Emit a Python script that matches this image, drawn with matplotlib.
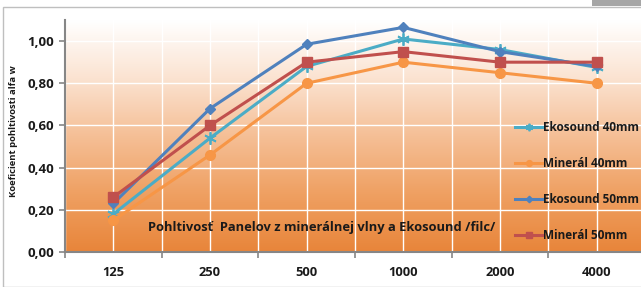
import numpy as np
import matplotlib
matplotlib.use("Agg")
import matplotlib.pyplot as plt
from matplotlib.colors import LinearSegmentedColormap
from matplotlib.patches import Rectangle

# data
freqs = ["125", "250", "500", "1000", "2000", "4000"]
ekosound_40 = [0.18, 0.54, 0.88, 1.01, 0.96, 0.875]
mineral_40 = [0.15, 0.46, 0.80, 0.90, 0.85, 0.80]
ekosound_50 = [0.23, 0.68, 0.985, 1.065, 0.95, 0.88]
mineral_50 = [0.26, 0.60, 0.90, 0.95, 0.90, 0.90]
yticks = [0.0, 0.2, 0.4, 0.6, 0.8, 1.0]

plt.rcParams['font.family'] = ['Open Sans', 'DejaVu Sans']
plt.rcParams['font.weight'] = 'bold'

W, H = 641, 287
fig = plt.figure(figsize=(W / 100, H / 100), dpi=100)
fig.patch.set_facecolor('white')

# chart frame like the spreadsheet object
fig.patches.append(Rectangle((3 / W, 0), 1, 1 - 7 / H, transform=fig.transFigure,
                             fill=False, edgecolor='#BFBFBF', lw=1.0))
fig.patches.append(Rectangle((592 / W, 1 - 6 / H), 1, 6 / H, transform=fig.transFigure,
                             facecolor='#A6A6A6', edgecolor='none'))

ax = fig.add_axes([65 / W, 1 - 252 / H, (645 - 65) / W, (252 - 20) / H])

# gradient background: white at top -> orange at bottom
cmap = LinearSegmentedColormap.from_list(
    'bg', [(0, '#FFFFFF'), (0.25, '#FBE3D1'), (0.5, '#F5BF96'),
           (0.75, '#EFA062'), (1, '#E8853A')])
grad = np.linspace(0, 1, 256).reshape(-1, 1)
ax.imshow(grad, aspect='auto', cmap=cmap, extent=[0, 1, 0, 1],
          transform=ax.transAxes, zorder=0)

x = np.arange(len(freqs))
ax.plot(x, ekosound_40, color='#4BACC6', lw=2.2, marker=(6, 2, 0), ms=9, mew=1.3,
        label='Ekosound 40mm', zorder=3)
ax.plot(x, mineral_40, color='#F79646', lw=2.2, marker='o', ms=7,
        label='Minerál 40mm', zorder=3)
ax.plot(x, ekosound_50, color='#4F81BD', lw=2.2, marker='D', ms=5.5,
        label='Ekosound 50mm', zorder=3)
ax.plot(x, mineral_50, color='#C0504D', lw=2.2, marker='s', ms=7.5,
        label='Minerál 50mm', zorder=3)

ax.set_xlim(-0.5, 5.5)
ax.set_ylim(0, 1.1)
ax.set_yticks(yticks)
ax.set_yticklabels([f"{v:.2f}".replace('.', ',') for v in yticks])
ax.set_xticks(np.arange(-0.5, 6.0, 1.0))
ax.set_xticklabels([])
ax.set_xticks(x, minor=True)
ax.set_xticklabels(freqs, minor=True)
ax.tick_params(axis='x', which='minor', length=0, pad=10, labelsize=9.3)
ax.tick_params(axis='x', which='major', length=4, width=1.2, color='#868686')
ax.tick_params(axis='y', length=4, width=1.2, color='#868686', pad=4, labelsize=9.5)
for lab in ax.get_xticklabels(minor=True) + ax.get_yticklabels():
    lab.set_fontweight('bold')
    lab.set_color('#1A1A1A')

ax.grid(axis='x', which='both', color='white', lw=1.0, zorder=1)
ax.grid(axis='y', which='major', color='white', lw=1.0, zorder=1)
ax.set_axisbelow(True)

for s in ['top', 'right']:
    ax.spines[s].set_visible(False)
for s in ['left', 'bottom']:
    ax.spines[s].set_color('#868686')
    ax.spines[s].set_linewidth(1.5)

fig.text(14 / W, 1 - 131 / H, 'Koeficient pohltivosti alfa w', rotation=90,
         ha='center', va='center', fontsize=6.8, fontweight='bold', color='#1A1A1A')

fig.text(148 / W, 1 - 227 / H, 'Pohltivosť  Panelov z minerálnej vlny a Ekosound /filc/',
         ha='left', va='center', fontsize=9.3, fontweight='bold', color='#1A1A1A')

leg = fig.legend(loc='upper left', bbox_to_anchor=(515 / W, 1 - 121 / H),
                 frameon=False, borderpad=0, borderaxespad=0, handlelength=2.3,
                 handletextpad=0.1, labelspacing=1.95, markerscale=0.6,
                 prop={'weight': 'bold', 'size': 8.5})
for t in leg.get_texts():
    t.set_color('#1A1A1A')

fig.savefig('out.png', dpi=100)
